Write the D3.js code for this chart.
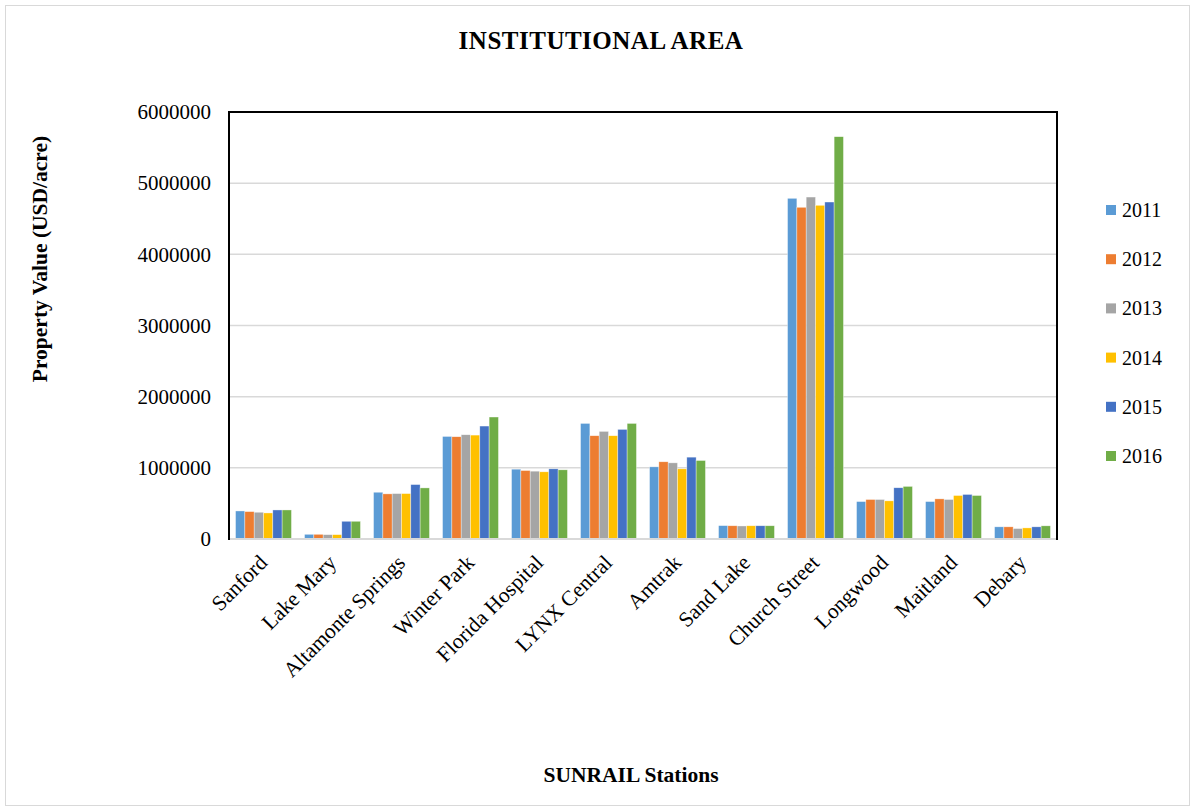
<!DOCTYPE html>
<html>
<head>
<meta charset="utf-8">
<title>Institutional Area</title>
<style>
	body { margin: 0; background: #fff; font-family: 'Liberation Serif', 'Times New Roman', serif; }
	.grid line { stroke: #d9d9d9; stroke-width: 1.5px; }
	.ylab text { font-size: 21px; fill: #000; }
	.xlab text { font-size: 21.5px; fill: #000; }
	.legend text { font-size: 20px; fill: #000; }
</style>
</head>
<body>
<script src="https://cdn.jsdelivr.net/npm/d3@7/dist/d3.min.js"></script>
<script>

// data
var stations = ["Sanford", "Lake Mary", "Altamonte Springs", "Winter Park", "Florida Hospital",
	"LYNX Central", "Amtrak", "Sand Lake", "Church Street", "Longwood", "Maitland", "Debary"];
var years = ["2011", "2012", "2013", "2014", "2015", "2016"];
var colors = ["#5b9bd5", "#ed7d31", "#a5a5a5", "#ffc000", "#4472c4", "#70ad47"];

var v2011 = [394000, 66000, 657000, 1441000, 981000, 1624000, 1014000, 188000, 4787000, 526000, 526000, 171000];
var v2012 = [385000, 66000, 634000, 1437000, 962000, 1451000, 1085000, 186000, 4661000, 555000, 564000, 171000];
var v2013 = [376000, 61000, 638000, 1465000, 953000, 1512000, 1070000, 183000, 4805000, 555000, 555000, 147000];
var v2014 = [366000, 61000, 638000, 1460000, 944000, 1451000, 986000, 186000, 4689000, 536000, 611000, 156000];
var v2015 = [408000, 249000, 765000, 1587000, 986000, 1540000, 1150000, 186000, 4735000, 720000, 626000, 171000];
var v2016 = [408000, 249000, 718000, 1714000, 972000, 1624000, 1103000, 186000, 5653000, 739000, 611000, 185000];
var series = [v2011, v2012, v2013, v2014, v2015, v2016];

var yTicks = [0, 1000000, 2000000, 3000000, 4000000, 5000000, 6000000];

var width = 1195, height = 810;
var plot = {left: 229, right: 1057, top: 112, bottom: 539};

var svg = d3.select("body").append("svg")
	.attr("width", width)
	.attr("height", height);

// outer chart frame
svg.append("rect")
	.attr("x", 5.5).attr("y", 5.5)
	.attr("width", 1184).attr("height", 800)
	.attr("fill", "#fff")
	.attr("stroke", "#d9d9d9");

var x = d3.scaleBand()
	.domain(stations)
	.range([plot.left, plot.right])
	.paddingInner(0.19)
	.paddingOuter(0.095);

var xs = d3.scaleBand()
	.domain(years)
	.range([0, x.bandwidth()]);

var y = d3.scaleLinear()
	.domain([0, 6000000])
	.range([plot.bottom, plot.top]);

// gridlines
svg.append("g").attr("class", "grid")
	.selectAll("line")
	.data(yTicks.slice(1))
	.enter().append("line")
	.attr("x1", plot.left).attr("x2", plot.right)
	.attr("y1", function(d) { return y(d); })
	.attr("y2", function(d) { return y(d); });

// bars
var groups = svg.append("g")
	.selectAll("g")
	.data(series)
	.enter().append("g")
	.attr("fill", function(d, i) { return colors[i]; });

groups.selectAll("rect")
	.data(function(d, i) { return d.map(function(v, j) { return {year: years[i], station: stations[j], value: v}; }); })
	.enter().append("rect")
	.attr("x", function(d) { return x(d.station) + xs(d.year); })
	.attr("width", xs.bandwidth())
	.attr("y", function(d) { return y(d.value); })
	.attr("height", function(d) { return y(0) - y(d.value); })
	.attr("stroke", "#fff")
	.attr("stroke-opacity", 0.6)
	.attr("stroke-width", 0.6);

// plot frame
svg.append("rect")
	.attr("x", plot.left).attr("y", plot.top)
	.attr("width", plot.right - plot.left)
	.attr("height", plot.bottom - plot.top)
	.attr("fill", "none")
	.attr("stroke", "#000")
	.attr("stroke-width", 2);

svg.append("line")
	.attr("x1", plot.left + 1).attr("x2", plot.right - 1)
	.attr("y1", plot.bottom).attr("y2", plot.bottom)
	.attr("stroke", "#d9d9d9")
	.attr("stroke-width", 2);

// y axis labels
var yAxis = d3.axisLeft(y).tickValues(yTicks).tickSize(0).tickPadding(18).tickFormat(d3.format("d"));
var ya = svg.append("g").attr("class", "ylab")
	.attr("transform", "translate(" + plot.left + ",0)")
	.call(yAxis);
ya.select(".domain").remove();
ya.selectAll("text").style("font-family", "'Liberation Serif', serif");

// x axis labels
var xAxis = d3.axisBottom(x).tickSize(0);
var xa = svg.append("g").attr("class", "xlab")
	.attr("transform", "translate(0," + plot.bottom + ")")
	.call(xAxis);
xa.select(".domain").remove();
xa.selectAll("text")
	.style("font-family", "'Liberation Serif', serif")
	.attr("text-anchor", "end")
	.attr("dy", null)
	.attr("y", 0)
	.attr("transform", "translate(5,25) rotate(-45)");

// titles
svg.append("text")
	.attr("x", 601).attr("y", 49)
	.attr("text-anchor", "middle")
	.style("font-size", "25px").style("font-weight", "bold")
	.style("letter-spacing", "0.5px")
	.text("INSTITUTIONAL AREA");

svg.append("text")
	.attr("transform", "translate(47,259) rotate(-90)")
	.attr("text-anchor", "middle")
	.style("font-size", "21.5px").style("font-weight", "bold")
	.text("Property Value (USD/acre)");

svg.append("text")
	.attr("x", 631).attr("y", 782)
	.attr("text-anchor", "middle")
	.style("font-size", "21.5px").style("font-weight", "bold")
	.text("SUNRAIL Stations");

// legend
var legend = svg.append("g").attr("class", "legend")
	.selectAll("g")
	.data(years)
	.enter().append("g")
	.attr("transform", function(d, i) { return "translate(1106," + (210 + i * 49.2) + ")"; });

legend.append("rect")
	.attr("x", 0).attr("y", -5)
	.attr("width", 10).attr("height", 10)
	.attr("fill", function(d, i) { return colors[i]; });

legend.append("text")
	.attr("x", 16).attr("y", 7)
	.text(function(d) { return d; });

</script>
</body>
</html>
